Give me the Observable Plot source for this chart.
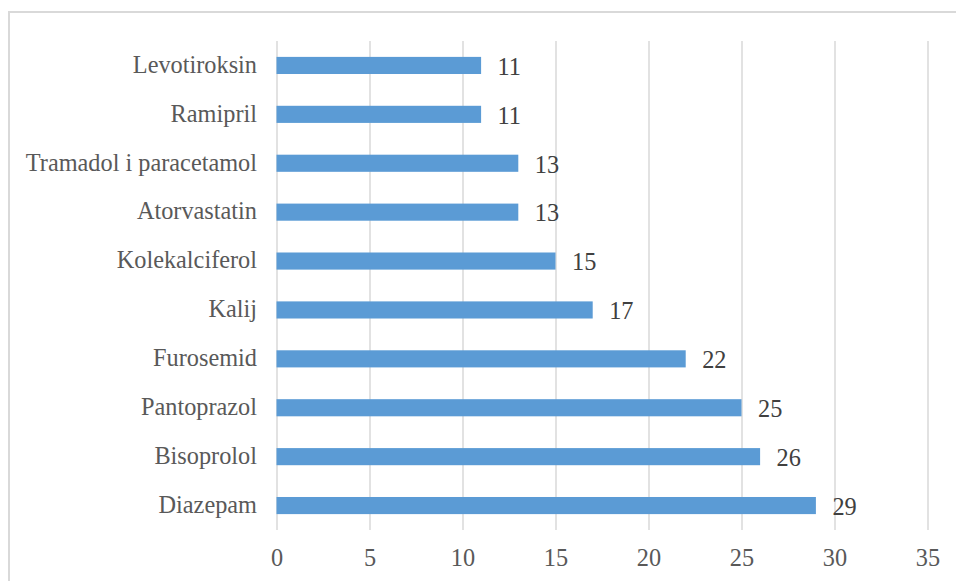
<!DOCTYPE html>
<html>
<head>
<meta charset="utf-8">
<script src="https://cdn.jsdelivr.net/npm/d3@7"></script>
<script src="https://cdn.jsdelivr.net/npm/@observablehq/plot@0.6"></script>
<style>
  html, body { margin: 0; padding: 0; background: #fff; }
  #wrap { position: relative; width: 956px; height: 581px; overflow: hidden; }
  #frame { position: absolute; left: 8px; top: 11px; width: 1000px; height: 700px;
           border-top: 2px solid #d9d9d9; border-left: 2px solid #d9d9d9; box-sizing: border-box; }
  #chart { position: absolute; left: 0; top: 0; }
  #chart svg, #chart svg text { font-family: "Liberation Serif", "Times New Roman", serif !important; }
</style>
</head>
<body>
<div id="wrap"><div id="frame"></div><div id="chart"></div></div>
<script>
const drugs = ["Levotiroksin", "Ramipril", "Tramadol i paracetamol", "Atorvastatin", "Kolekalciferol", "Kalij", "Furosemid", "Pantoprazol", "Bisoprolol", "Diazepam"];
const counts = [11, 11, 13, 13, 15, 17, 22, 25, 26, 29];
const xTicks = [0, 5, 10, 15, 20, 25, 30, 35];

const data = drugs.map((d, i) => ({drug: d, count: counts[i]}));
const serif = "Liberation Serif";

const chart = Plot.plot({
  width: 956,
  height: 581,
  marginLeft: 276.5,
  marginRight: 28.5,
  marginTop: 41,
  marginBottom: 51,
  style: { fontFamily: serif, fontSize: "24px", background: "transparent", color: "#595959" },
  x: { domain: [0, 35], ticks: xTicks, label: null, tickSize: 0, tickPadding: 18 },
  y: { domain: drugs, label: null, tickSize: 0, tickPadding: 20, padding: 0.65, paddingOuter: 0.325, round: false },
  marks: [
    Plot.gridX(xTicks, { stroke: "#d9d9d9", strokeOpacity: 1, strokeWidth: 1.5 }),
    Plot.barX(data, { x: "count", y: "drug", fill: "#5b9bd5" }),
    Plot.text(data, { x: "count", y: "drug", text: d => String(d.count), textAnchor: "start", dx: 16, dy: 1, fill: "#404040", fontSize: 24.3, fontFamily: serif }),
    Plot.axisX({ ticks: xTicks, tickSize: 0, tickPadding: 18, fill: "#595959", fontSize: 24.3, fontFamily: serif }),
    Plot.axisY({ tickSize: 0, tickPadding: 20, dy: -1, fill: "#595959", fontSize: 24.3, fontFamily: serif })
  ]
});
document.getElementById("chart").appendChild(chart);
</script>
</body>
</html>
